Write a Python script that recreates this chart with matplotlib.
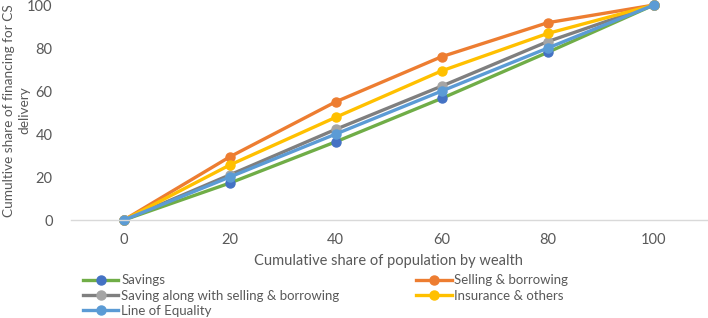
import matplotlib.pyplot as plt

# ---- Data ----
population = [0, 20, 40, 60, 80, 100]
savings = [0, 17.2, 36.4, 56.6, 78.0, 100]
selling_borrowing = [0, 29.4, 55.0, 76.0, 91.8, 100]
saving_with_selling = [0, 21.0, 42.2, 62.3, 83.0, 100]
insurance_others = [0, 25.6, 47.8, 69.4, 86.8, 100]
equality = [0, 20, 40, 60, 80, 100]

plt.rcParams['font.family'] = ['Lato', 'DejaVu Sans']
txt = '#595959'

fig = plt.figure(figsize=(7.08, 3.18), dpi=100)
ax = fig.add_axes([0.1, 0.308, 0.898, 0.676])

lw = 2.4
ms = 6.5
l1, = ax.plot(population, savings, color='#70AD47', lw=lw, marker='o', ms=ms,
              mfc='#4472C4', mec='#4472C4', label='Savings')
l2, = ax.plot(population, selling_borrowing, color='#ED7D31', lw=lw, marker='o', ms=ms,
              label='Selling & borrowing')
l3, = ax.plot(population, saving_with_selling, color='#7F7F7F', lw=lw, marker='o', ms=ms,
              mfc='#A5A5A5', mec='#A5A5A5', label='Saving along with selling & borrowing')
l4, = ax.plot(population, insurance_others, color='#FFC000', lw=lw, marker='o', ms=ms,
              label='Insurance & others')
l5, = ax.plot(population, equality, color='#5B9BD5', lw=lw, marker='o', ms=ms,
              label='Line of Equality')
for ln in [l1, l2, l3, l4, l5]:
    ln.set_clip_on(False)

ax.set_xlim(-10, 110)
ax.set_ylim(0, 100)
ax.set_xticks(population)
ax.set_yticks([0, 20, 40, 60, 80, 100])
for s in ['top', 'right', 'left']:
    ax.spines[s].set_visible(False)
ax.spines['bottom'].set_color('#D9D9D9')
ax.spines['bottom'].set_linewidth(1)
ax.tick_params(length=0, labelsize=10.5, colors=txt)
ax.tick_params(axis='x', pad=9)
ax.tick_params(axis='y', pad=13)

ax.set_xlabel('Cumulative share of population by wealth', fontsize=10.5, color=txt,
              labelpad=5)
ax.set_ylabel('Cumultive share of financing for CS\ndelivery', fontsize=9.8, color=txt,
              linespacing=1.35)
ax.yaxis.set_label_coords(-0.064, 0.51)

fig.legend(handles=[l1, l3, l5, l2, l4], ncol=2, loc='upper left',
           bbox_to_anchor=(0.117, 0.137), frameon=False, fontsize=9.5,
           labelcolor=txt, handlelength=2.7, handletextpad=0.2,
           columnspacing=5.8, labelspacing=0.25, borderaxespad=0, borderpad=0)

fig.savefig('out.png', dpi=100)
